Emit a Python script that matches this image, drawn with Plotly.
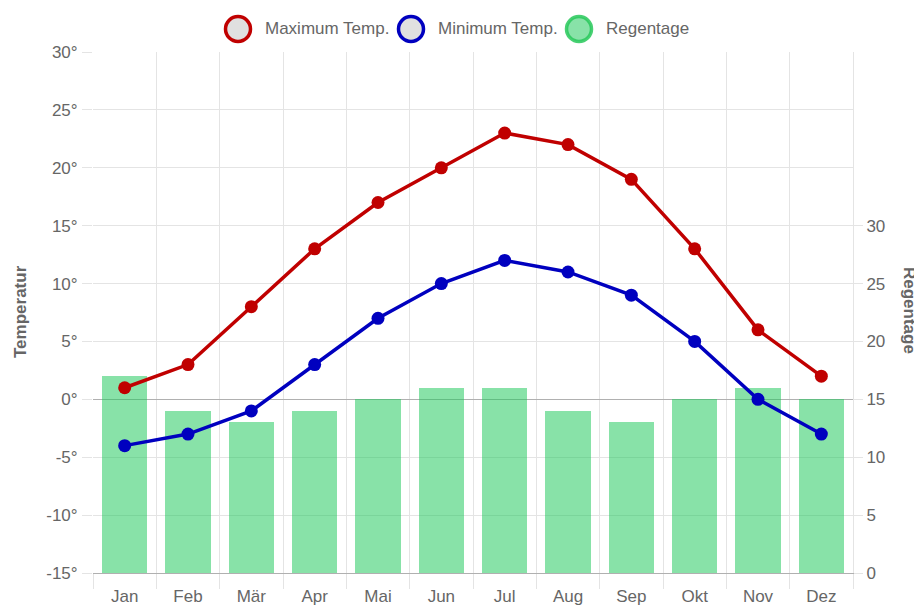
import plotly.graph_objects as go

months = ["Jan", "Feb", "Mär", "Apr", "Mai", "Jun", "Jul", "Aug", "Sep", "Okt", "Nov", "Dez"]
max_temp = [1, 3, 8, 13, 17, 20, 23, 22, 19, 13, 6, 2]
min_temp = [-4, -3, -1, 3, 7, 10, 12, 11, 9, 5, 0, -3]
rain_days = [17, 14, 13, 14, 15, 16, 16, 14, 13, 15, 16, 15]

series_names = ["Maximum Temp.", "Minimum Temp.", "Regentage"]
temp_ticks = list(range(-15, 31, 5))
temp_labels = [f"{v}°" for v in temp_ticks]
rain_ticks = list(range(0, 31, 5))
rain_labels = [str(v) for v in rain_ticks]

RED = "#c00000"
BLUE = "#0000bf"
GREEN = "rgba(30,200,90,0.53)"
GREEN_BORDER = "rgba(40,200,90,0.85)"
GRID = "#e4e4e4"
DARK = "#b0b0b0"
TXT = "#666666"
FONT = "Liberation Sans, Arial, sans-serif"

# the page body has an 8px margin, so the figure is 8px smaller than the window
OFF = 8
FIG_W, FIG_H = 922 - OFF, 605 - OFF

fig = go.Figure()
fig.add_trace(go.Bar(x=months, y=rain_days, name=series_names[2], yaxis="y",
                     marker=dict(color=GREEN, line=dict(width=0)), width=0.72,
                     showlegend=False))
fig.add_trace(go.Scatter(x=months, y=max_temp, name=series_names[0], mode="lines+markers",
                         yaxis="y2",
                         line=dict(color=RED, width=3.5), marker=dict(color=RED, size=13),
                         showlegend=False))
fig.add_trace(go.Scatter(x=months, y=min_temp, name=series_names[1], mode="lines+markers",
                         yaxis="y2",
                         line=dict(color=BLUE, width=3.5), marker=dict(color=BLUE, size=13),
                         showlegend=False))

# plot area in screen pixels
L, R, T, B = 93, 853, 52, 573
W, H = R - L, B - T

def px(x):
    return (x - L) / W

def py(y):
    return (B - y) / H

# custom legend
legend_items = [
    (238, 263, "#e0e0e0", RED),
    (411, 436, "#e0e0e0", BLUE),
    (579, 604, GREEN, GREEN_BORDER),
]
shapes = []
annotations = []
for (cx, tx, fill, border), name in zip(legend_items, series_names):
    shapes.append(dict(type="circle", xref="paper", yref="paper",
                       xsizemode="pixel", ysizemode="pixel",
                       xanchor=px(cx), yanchor=py(29),
                       x0=-12.5, x1=12.5, y0=-12.5, y1=12.5,
                       fillcolor=fill, line=dict(color=border, width=3.5)))
    annotations.append(dict(text=name, xref="paper", yref="paper", x=px(tx), y=py(28),
                            xanchor="left", yanchor="middle", showarrow=False,
                            font=dict(size=17, color=TXT, family=FONT)))

annotations.append(dict(text="<b>Temperatur</b>", xref="paper", yref="paper",
                        x=px(20), y=py(312), textangle=-90, showarrow=False,
                        xanchor="center", yanchor="middle",
                        font=dict(size=17, color=TXT, family=FONT)))
annotations.append(dict(text="<b>Regentage</b>", xref="paper", yref="paper",
                        x=px(910), y=py(310), textangle=90, showarrow=False,
                        xanchor="center", yanchor="middle",
                        font=dict(size=17, color=TXT, family=FONT)))

fig.update_layout(
    width=FIG_W, height=FIG_H,
    margin=dict(l=L - OFF, r=922 - R, t=T - OFF, b=605 - B),
    paper_bgcolor="white", plot_bgcolor="white",
    font=dict(family=FONT, size=17, color=TXT),
    showlegend=False,
    bargap=0,
    shapes=shapes,
    annotations=annotations,
    xaxis=dict(
        type="category", range=[-0.5, 11.5], automargin=False,
        tickson="boundaries", showgrid=True, gridcolor=GRID, gridwidth=1,
        ticks="outside", ticklen=15, tickcolor=GRID, ticklabelstandoff=8,
        showline=True, linecolor=DARK, linewidth=1,
        tickfont=dict(size=17, color=TXT), fixedrange=True,
    ),
    yaxis=dict(
        range=[0, 45], tickvals=rain_ticks, ticktext=rain_labels, side="right",
        automargin=False,
        showgrid=False, zeroline=False,
        ticks="outside", ticklen=9, tickcolor=GRID,
        showline=True, linecolor=GRID, linewidth=1,
        tickfont=dict(size=17, color=TXT), fixedrange=True,
    ),
    yaxis2=dict(
        range=[-15, 30], tickvals=temp_ticks, ticktext=temp_labels,
        overlaying="y", side="left", automargin=False,
        showgrid=True, gridcolor=GRID, gridwidth=1,
        zeroline=True, zerolinecolor=DARK, zerolinewidth=1,
        ticks="outside", ticklen=10, tickcolor=GRID, ticklabelstandoff=1,
        showline=False, tickfont=dict(size=17, color=TXT), fixedrange=True,
    ),
)

fig.write_html("out.html")
